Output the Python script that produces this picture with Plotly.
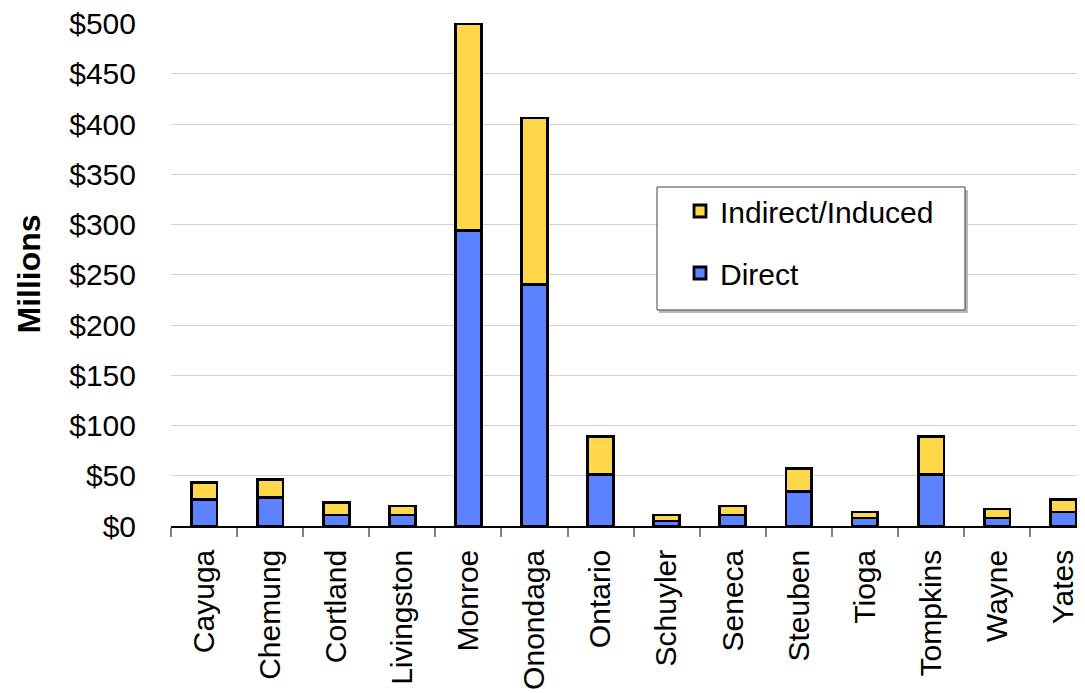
import plotly.graph_objects as go

categories = ["Cayuga", "Chemung", "Cortland", "Livingston", "Monroe", "Onondaga",
              "Ontario", "Schuyler", "Seneca", "Steuben", "Tioga", "Tompkins",
              "Wayne", "Yates"]
direct = [26, 28, 11, 11, 294, 240, 51, 5, 11, 34, 8, 51, 8, 14]
indirect = [17, 18, 12, 9, 206, 166, 38, 6, 9, 23, 6, 38, 9, 12]
y_range = [0, 500.6]

FONT = "Liberation Sans, Arial, sans-serif"
OFF = 8  # default body margin of the html page
W, H = 1085 - OFF, 693 - OFF
ML, MR, MT, MB = 171 - OFF, 0, 23 - OFF, 693 - 526
pw = W - ML - MR
ph = H - MT - MB

def px2x(px):
    return (px - OFF - ML) / pw

def px2y(py):
    return (H - MB - (py - OFF)) / ph

fig = go.Figure()
fig.add_trace(go.Bar(
    x=categories, y=direct, name="Direct", width=0.39,
    marker=dict(color="#5C82FF", line=dict(color="black", width=2.8)),
    legendgroup="d", legendrank=2))
fig.add_trace(go.Bar(
    x=categories, y=indirect, name="Indirect/Induced", width=0.39,
    marker=dict(color="#FFD84A", line=dict(color="black", width=2.8)),
    legendgroup="i", legendrank=1))

# legend box (shadow + frame)
fig.add_shape(type="rect", xref="paper", yref="paper",
              x0=px2x(659), x1=px2x(968), y0=px2y(190), y1=px2y(313),
              line=dict(width=0), fillcolor="#b8b8b8", layer="above")
fig.add_shape(type="rect", xref="paper", yref="paper",
              x0=px2x(657), x1=px2x(965), y0=px2y(187), y1=px2y(310),
              line=dict(color="#404040", width=1), fillcolor="white", layer="above")

fig.add_annotation(text="<b>Millions</b>", xref="paper", yref="paper",
                   x=px2x(28), y=0.5, xanchor="center", yanchor="middle",
                   textangle=-90, showarrow=False,
                   font=dict(family=FONT, size=32, color="black"))

fig.update_layout(
    width=W, height=H,
    margin=dict(l=ML, r=MR, t=MT, b=MB, pad=0, autoexpand=False),
    barmode="stack",
    plot_bgcolor="white", paper_bgcolor="white",
    font=dict(family=FONT, size=30, color="black"),
    showlegend=True,
    legend=dict(x=px2x(680), y=px2y(185), xanchor="left", yanchor="top",
                traceorder="grouped", tracegroupgap=20,
                bgcolor="rgba(0,0,0,0)", borderwidth=0,
                font=dict(family=FONT, size=30, color="black")),
    xaxis=dict(type="category", range=[-0.5, 13.33], automargin=False,
               showline=True, linecolor="black", linewidth=1.5,
               ticks="outside", tickson="boundaries", ticklen=9,
               tickcolor="#808080", tickwidth=1.5,
               tickangle=-90, ticklabelstandoff=10,
               showgrid=False, ticklabeloverflow="allow",
               tickfont=dict(family=FONT, size=30, color="black")),
    yaxis=dict(range=y_range, dtick=50, tickprefix="$", automargin=False,
               showgrid=True, gridcolor="#d0d0d0", gridwidth=1,
               zeroline=False, showline=False, ticks="",
               ticklabelstandoff=34, ticklabeloverflow="allow",
               tickfont=dict(family=FONT, size=30, color="black")),
)

fig.write_html("out.html")
